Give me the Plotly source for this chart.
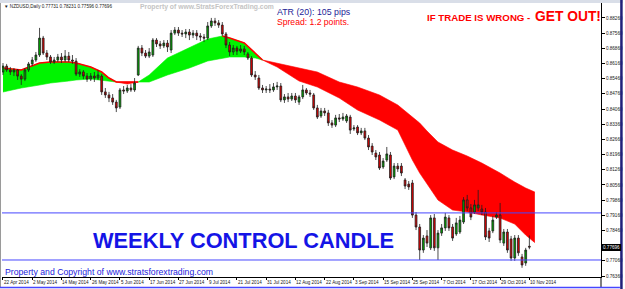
import plotly.graph_objects as go

# ---------------- data ----------------
open_ = [
    0.8577, 0.8604, 0.8586, 0.8577, 0.8586, 0.8558, 0.8544, 0.8586, 0.8614, 0.8632,
    0.8655, 0.8733, 0.8664, 0.8646, 0.8623, 0.8632, 0.8646, 0.8632, 0.8650, 0.8632,
    0.8627, 0.8567, 0.8577, 0.8558, 0.8544, 0.8558, 0.8549, 0.8558, 0.8485, 0.8471,
    0.8457, 0.8438, 0.8415, 0.8494, 0.8489, 0.8503, 0.8494, 0.8563, 0.8687, 0.8664,
    0.8650, 0.8655, 0.8724, 0.8706, 0.8697, 0.8710, 0.8678, 0.8756, 0.8770, 0.8756,
    0.8752, 0.8761, 0.8747, 0.8756, 0.8743, 0.8738, 0.8733, 0.8789, 0.8812, 0.8803,
    0.8793, 0.8752, 0.8701, 0.8669, 0.8687, 0.8673, 0.8683, 0.8660, 0.8641, 0.8563,
    0.8549, 0.8503, 0.8494, 0.8498, 0.8494, 0.8508, 0.8512, 0.8448, 0.8462, 0.8452,
    0.8466, 0.8438, 0.8462, 0.8494, 0.8480, 0.8471, 0.8411, 0.8374, 0.8397, 0.8388,
    0.8342, 0.8332, 0.8365, 0.8360, 0.8351, 0.8369, 0.8314, 0.8323, 0.8296, 0.8305,
    0.8272, 0.8235, 0.8203, 0.8194, 0.8139, 0.8171, 0.8194, 0.8093, 0.8143, 0.8143,
    0.8079, 0.8060, 0.8065, 0.7917, 0.7862, 0.7756, 0.7821, 0.7766, 0.7904, 0.7766,
    0.7834, 0.7858, 0.7904, 0.7862, 0.7830, 0.7839, 0.7885, 0.7987, 0.7950, 0.7931,
    0.7950, 0.7945, 0.7931, 0.7844, 0.7844, 0.7908, 0.7917, 0.7788, 0.7839, 0.7807,
    0.7719, 0.7811, 0.7724, 0.7696, 0.77731]
high = [
    0.8618, 0.8614, 0.8600, 0.8595, 0.8590, 0.8567, 0.8595, 0.8623, 0.8646, 0.8669,
    0.8780, 0.8743, 0.8678, 0.8655, 0.8646, 0.8660, 0.8664, 0.8678, 0.8669, 0.8655,
    0.8641, 0.8590, 0.8586, 0.8572, 0.8572, 0.8577, 0.8586, 0.8567, 0.8503, 0.8485,
    0.8475, 0.8448, 0.8503, 0.8512, 0.8517, 0.8521, 0.8549, 0.8697, 0.8701, 0.8678,
    0.8687, 0.8733, 0.8733, 0.8720, 0.8724, 0.8724, 0.8770, 0.8784, 0.8784, 0.8770,
    0.8775, 0.8775, 0.8770, 0.8770, 0.8756, 0.8752, 0.8807, 0.8826, 0.8826, 0.8816,
    0.8807, 0.8761, 0.8715, 0.8701, 0.8697, 0.8701, 0.8697, 0.8669, 0.8650, 0.8581,
    0.8563, 0.8517, 0.8512, 0.8521, 0.8526, 0.8531, 0.8526, 0.8475, 0.8480, 0.8480,
    0.8480, 0.8471, 0.8517, 0.8503, 0.8494, 0.8480, 0.8425, 0.8411, 0.8411, 0.8402,
    0.8355, 0.8379, 0.8383, 0.8388, 0.8383, 0.8379, 0.8332, 0.8332, 0.8319, 0.8319,
    0.8286, 0.8249, 0.8217, 0.8208, 0.8180, 0.8231, 0.8208, 0.8157, 0.8157, 0.8157,
    0.8088, 0.8074, 0.8079, 0.7931, 0.7876, 0.7825, 0.7848, 0.7917, 0.7922, 0.7848,
    0.7876, 0.7927, 0.7917, 0.7876, 0.7904, 0.7913, 0.8000, 0.8010, 0.7968, 0.7987,
    0.8033, 0.7964, 0.7950, 0.7858, 0.7913, 0.7931, 0.7973, 0.7853, 0.7853, 0.7821,
    0.7825, 0.7825, 0.7738, 0.7766, 0.78231]
low = [
    0.8563, 0.8577, 0.8563, 0.8558, 0.8540, 0.8517, 0.8535, 0.8577, 0.8604, 0.8623,
    0.8646, 0.8655, 0.8632, 0.8614, 0.8614, 0.8623, 0.8618, 0.8623, 0.8623, 0.8614,
    0.8558, 0.8554, 0.8544, 0.8531, 0.8535, 0.8531, 0.8540, 0.8471, 0.8457, 0.8438,
    0.8425, 0.8392, 0.8406, 0.8475, 0.8480, 0.8485, 0.8485, 0.8558, 0.8650, 0.8641,
    0.8641, 0.8646, 0.8692, 0.8683, 0.8687, 0.8669, 0.8664, 0.8747, 0.8743, 0.8738,
    0.8733, 0.8724, 0.8733, 0.8724, 0.8720, 0.8715, 0.8724, 0.8780, 0.8789, 0.8780,
    0.8743, 0.8687, 0.8650, 0.8655, 0.8655, 0.8664, 0.8655, 0.8632, 0.8554, 0.8540,
    0.8494, 0.8480, 0.8480, 0.8480, 0.8485, 0.8494, 0.8438, 0.8434, 0.8438, 0.8443,
    0.8434, 0.8425, 0.8452, 0.8471, 0.8462, 0.8402, 0.8360, 0.8365, 0.8374, 0.8328,
    0.8319, 0.8323, 0.8346, 0.8351, 0.8342, 0.8291, 0.8305, 0.8286, 0.8286, 0.8263,
    0.8217, 0.8194, 0.8171, 0.8125, 0.8130, 0.8162, 0.8079, 0.8083, 0.8116, 0.8097,
    0.8037, 0.8033, 0.7904, 0.7848, 0.7710, 0.7743, 0.7770, 0.7756, 0.7752, 0.7710,
    0.7821, 0.7844, 0.7844, 0.7798, 0.7821, 0.7830, 0.7876, 0.7936, 0.7894, 0.7922,
    0.7936, 0.7917, 0.7802, 0.7793, 0.7834, 0.7899, 0.7788, 0.7775, 0.7743, 0.7706,
    0.7706, 0.7729, 0.7674, 0.7683, 0.77596]
close = [
    0.8604, 0.8586, 0.8577, 0.8586, 0.8558, 0.8544, 0.8586, 0.8614, 0.8632, 0.8655,
    0.8733, 0.8664, 0.8646, 0.8623, 0.8632, 0.8646, 0.8632, 0.8650, 0.8632, 0.8627,
    0.8567, 0.8577, 0.8558, 0.8544, 0.8558, 0.8549, 0.8563, 0.8485, 0.8471, 0.8457,
    0.8438, 0.8411, 0.8494, 0.8489, 0.8503, 0.8494, 0.8526, 0.8687, 0.8664, 0.8650,
    0.8669, 0.8724, 0.8706, 0.8697, 0.8710, 0.8692, 0.8756, 0.8770, 0.8756, 0.8752,
    0.8761, 0.8747, 0.8756, 0.8743, 0.8738, 0.8733, 0.8789, 0.8812, 0.8803, 0.8793,
    0.8752, 0.8701, 0.8669, 0.8687, 0.8673, 0.8683, 0.8669, 0.8641, 0.8563, 0.8554,
    0.8503, 0.8494, 0.8498, 0.8494, 0.8508, 0.8512, 0.8448, 0.8462, 0.8452, 0.8466,
    0.8448, 0.8462, 0.8494, 0.8480, 0.8475, 0.8411, 0.8369, 0.8397, 0.8388, 0.8342,
    0.8332, 0.8365, 0.8360, 0.8369, 0.8374, 0.8309, 0.8319, 0.8296, 0.8305, 0.8272,
    0.8231, 0.8208, 0.8185, 0.8134, 0.8166, 0.8199, 0.8088, 0.8143, 0.8130, 0.8111,
    0.8051, 0.8047, 0.7917, 0.7862, 0.7756, 0.7811, 0.7788, 0.7904, 0.7766, 0.7834,
    0.7858, 0.7908, 0.7858, 0.7811, 0.7881, 0.7894, 0.7987, 0.7950, 0.7908, 0.7964,
    0.7964, 0.7931, 0.7816, 0.7811, 0.7894, 0.7917, 0.7802, 0.7839, 0.7756, 0.7719,
    0.7811, 0.7743, 0.7687, 0.7756, 0.77696]
bar_idx = list(range(len(close)))

date_labels = ["22 Apr 2014", "2 May 2014", "14 May 2014", "26 May 2014", "5 Jun 2014",
               "17 Jun 2014", "27 Jun 2014", "9 Jul 2014", "21 Jul 2014", "31 Jul 2014",
               "12 Aug 2014", "22 Aug 2014", "3 Sep 2014", "15 Sep 2014", "25 Sep 2014",
               "7 Oct 2014", "17 Oct 2014", "29 Oct 2014", "10 Nov 2014"]
date_step = 8  # bars between date labels

band_idx = [0, 5, 10, 13, 18, 20, 24, 27, 29, 31, 34, 37, 40, 45, 51, 56, 60, 62, 66, 69,
            71, 75, 81, 86, 92, 97, 103, 108, 110, 112, 114, 116, 119, 123, 125, 127, 131,
            136, 140, 143, 145.5]
ma_fast = [0.85951, 0.85859, 0.86181, 0.86228, 0.86228, 0.86181, 0.85997, 0.85766, 0.85490, 0.85305,
           0.85213, 0.85305, 0.85628, 0.86412, 0.86873, 0.87288, 0.87426, 0.87334, 0.87104, 0.86643,
           0.86320, 0.85997, 0.85351, 0.85075, 0.84568, 0.84014, 0.83553, 0.83092, 0.82400, 0.81709,
           0.81109, 0.80602, 0.79864, 0.79403, 0.79357, 0.79311, 0.79173, 0.79034, 0.78758, 0.78250,
           0.77900]
ma_slow = [0.84844, 0.85029, 0.85167, 0.85259, 0.85351, 0.85398, 0.85444, 0.85398, 0.85351, 0.85305,
           0.85305, 0.85305, 0.85305, 0.85628, 0.85951, 0.86274, 0.86412, 0.86458, 0.86458, 0.86412,
           0.86320, 0.86181, 0.85951, 0.85766, 0.85305, 0.85075, 0.84706, 0.84245, 0.83968, 0.83691,
           0.83415, 0.83046, 0.82539, 0.82170, 0.82032, 0.81893, 0.81570, 0.81109, 0.80694, 0.80418,
           0.80233]
red_edge_spans = [(0, 37), (60, 71)]

weekly_high = 0.7927
weekly_low = 0.7710

ytick_vals = [0.7636, 0.7706, 0.7776, 0.7846, 0.7916, 0.7986, 0.8056, 0.8126, 0.8196,
              0.8266, 0.8336, 0.8406, 0.8476, 0.8546, 0.8616, 0.8686, 0.8756, 0.8826]
ytick_text = ["0.76360", "0.77060", "", "0.78460", "0.79160", "0.79860", "0.80560", "0.81260",
              "0.81960", "0.82660", "0.83360", "0.84060", "0.84760", "0.85460", "0.86160",
              "0.86860", "0.87560", "0.88260"]

# ---------------- layout geometry ----------------
W, H = 625, 289
PL, PR, PT, PB = 2, 603, 3, 277
X_RANGE = [-0.27, 163.6]
Y_RANGE = [0.76316, 0.88948]


def fx(p):
    return (p - PL) / (PR - PL)


def fy(p):
    return (PB - p) / (PB - PT)


GREEN = "#00f400"
RED = "#ff0000"
FONT = "Arial, Liberation Sans, sans-serif"

fig = go.Figure()

# ---------------- cloud band ----------------
n = len(band_idx)
zero_pts = [k for k in range(n) if abs(ma_fast[k] - ma_slow[k]) < 1e-9]
bounds = sorted(set([0] + zero_pts + [n - 1]))
for a, b in zip(bounds[:-1], bounds[1:]):
    seg = list(range(a, b + 1))
    mids = [k for k in seg if abs(ma_fast[k] - ma_slow[k]) >= 1e-9]
    if not mids:
        continue
    color = GREEN if ma_fast[mids[0]] > ma_slow[mids[0]] else RED
    xs = [band_idx[k] for k in seg]
    lo = [min(ma_fast[k], ma_slow[k]) for k in seg]
    hi = [max(ma_fast[k], ma_slow[k]) for k in seg]
    fig.add_trace(go.Scatter(x=xs, y=lo, mode="lines", line=dict(width=0.6, color=color),
                             hoverinfo="skip", showlegend=False))
    fig.add_trace(go.Scatter(x=xs, y=hi, mode="lines", line=dict(width=0.6, color=color),
                             fill="tonexty", fillcolor=color, hoverinfo="skip", showlegend=False))

for a, b in red_edge_spans:
    ks = [k for k in range(n) if a <= band_idx[k] <= b]
    fig.add_trace(go.Scatter(x=[band_idx[k] for k in ks],
                             y=[max(ma_fast[k], ma_slow[k]) for k in ks],
                             mode="lines", line=dict(width=1.6, color=RED),
                             hoverinfo="skip", showlegend=False))

# ---------------- candles (overlay axes so they sit above the cloud) ----------------
fig.add_trace(go.Candlestick(
    x=bar_idx, open=open_, high=high, low=low, close=close,
    xaxis="x2", yaxis="y2",
    increasing=dict(line=dict(color="#1e1e1e", width=0.8), fillcolor="#00a800"),
    decreasing=dict(line=dict(color="#1e1e1e", width=0.8), fillcolor="#e00000"),
    whiskerwidth=0, showlegend=False, hoverinfo="skip"))

# ---------------- shapes ----------------
shapes = [
    dict(type="line", xref="paper", yref="y", x0=0, x1=1, y0=weekly_high, y1=weekly_high,
         line=dict(color="#4646ff", width=1), layer="above"),
    dict(type="line", xref="paper", yref="y", x0=0, x1=1, y0=weekly_low, y1=weekly_low,
         line=dict(color="#4646ff", width=1), layer="above"),
    dict(type="rect", xref="paper", yref="paper", x0=fx(0), x1=fx(W), y0=fy(0), y1=fy(PT),
         fillcolor="#d9dee8", line=dict(width=0), layer="above"),
    dict(type="line", xref="paper", yref="paper", x0=fx(0.5), x1=fx(0.5), y0=fy(PT), y1=fy(287),
         line=dict(color="#9a9a9a", width=1), layer="above"),
    dict(type="line", xref="paper", yref="paper", x0=fx(PR), x1=fx(PR), y0=fy(PB), y1=fy(287),
         line=dict(color="#000000", width=1), layer="above"),
    dict(type="line", xref="paper", yref="paper", x0=fx(0), x1=fx(622), y0=fy(287.5), y1=fy(287.5),
         line=dict(color="#4646ff", width=1.5), layer="above"),
    dict(type="line", xref="paper", yref="paper", x0=fx(623.5), x1=fx(623.5), y0=fy(0), y1=fy(H),
         line=dict(color="#20207a", width=2.5), layer="above"),
]

# ---------------- annotations ----------------
NOPAD = dict(borderpad=0, borderwidth=0, showarrow=False)
ann = []


def text_at(x_px, y_px, text, size, color, bold=False, xanchor="left", **kw):
    t = f"<b>{text}</b>" if bold else text
    d = dict(xref="paper", yref="paper", x=fx(x_px), y=fy(y_px), text=t,
             xanchor=xanchor, yanchor="middle",
             font=dict(family=FONT, size=size, color=color))
    d.update(NOPAD)
    d.update(kw)
    ann.append(d)


header = (f"\u25BC NZDUSD,Daily {open_[-1]:.5f} {high[-1]:.5f} "
          f"{low[-1]:.5f} {close[-1]:.5f}")
text_at(4, 7, header, 4.6, "#202020")
text_at(140, 7.5, "Property of www.StratsForexTrading.com", 6.8, "#c4c4c4", bold=True)
text_at(278, 12, "ATR (20): 105 pips", 8.8, "#1c1c96")
text_at(278, 22, "Spread: 1.2 points.", 8.6, "#ff0000")
text_at(428, 17, "IF TRADE IS WRONG -", 9.7, "#ff0000", bold=True)
text_at(537, 16, "GET OUT!", 13.8, "#ff0000", bold=True)
text_at(93, 240, "WEEKLY CONTROL CANDLE", 21.8, "#1414e6", bold=True)
text_at(5, 272, "Property and Copyright of www.stratsforextrading.com", 8.7, "#2323dc")

for k, lab in enumerate(date_labels):
    d = dict(xref="x", yref="paper", x=k * date_step, y=fy(282), text=lab,
             xanchor="left", yanchor="middle", xshift=1,
             font=dict(family=FONT, size=4.6, color="#202020"))
    d.update(NOPAD)
    ann.append(d)

d = dict(xref="paper", yref="y", x=1, y=close[-1], text=f"{close[-1]:.5f}",
         xanchor="left", yanchor="middle", xshift=1, bgcolor="#000000",
         font=dict(family=FONT, size=4.6, color="#ffffff"))
d.update(dict(borderpad=1, borderwidth=0, showarrow=False))
ann.append(d)

fig.update_layout(
    width=W, height=H,
    margin=dict(l=PL, r=W - PR, t=PT, b=H - PB, pad=0),
    paper_bgcolor="#ffffff", plot_bgcolor="#ffffff",
    showlegend=False, hovermode=False,
    font=dict(family=FONT, color="#000000"),
    xaxis=dict(range=X_RANGE, showgrid=False, zeroline=False, showline=True,
               linecolor="#000000", linewidth=1, ticks="outside", ticklen=2,
               tickcolor="#000000", tickvals=[k * date_step for k in range(len(date_labels))],
               showticklabels=False, rangeslider=dict(visible=False), fixedrange=True),
    yaxis=dict(range=Y_RANGE, side="right", showgrid=False, zeroline=False, showline=True,
               linecolor="#000000", linewidth=1, ticks="outside", ticklen=3,
               tickcolor="#000000", tickvals=ytick_vals, ticktext=ytick_text,
               tickfont=dict(family=FONT, size=4.6, color="#202020"), fixedrange=True),
    xaxis2=dict(range=X_RANGE, overlaying="x", anchor="y2", visible=False,
                rangeslider=dict(visible=False), fixedrange=True),
    yaxis2=dict(range=Y_RANGE, overlaying="y", anchor="x2", visible=False, fixedrange=True),
    shapes=shapes,
    annotations=ann,
)

fig.write_html("out.html")
